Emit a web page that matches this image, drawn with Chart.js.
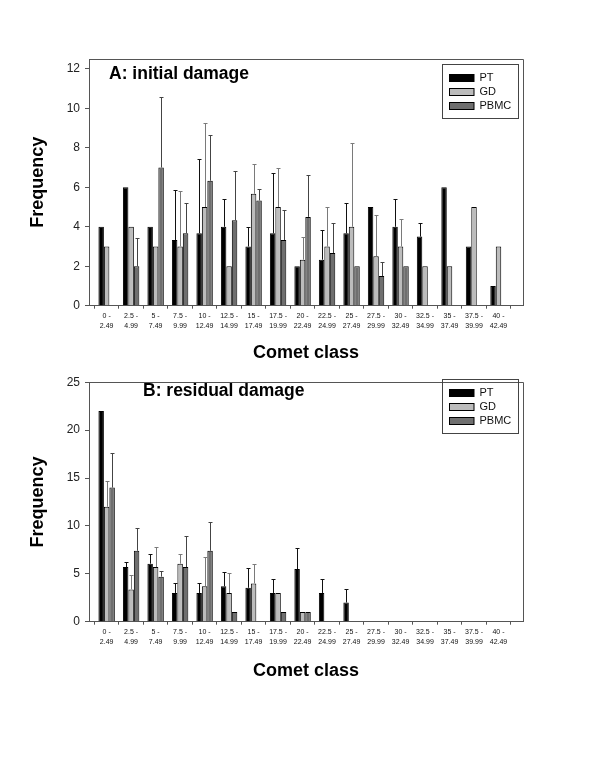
<!DOCTYPE html>
<html>
<head>
<meta charset="utf-8">
<script src="https://cdn.jsdelivr.net/npm/chart.js@4.4.1/dist/chart.umd.min.js"></script>
<style>
  body { margin: 0; background: #fff; }
  #wrap { position: relative; width: 600px; height: 774px; }
  canvas { position: absolute; left: 0; }
  #chartA { top: 0; }
  #chartB { top: 370px; }
</style>
</head>
<body>
<div id="wrap">
  <canvas id="chartA" width="600" height="370"></canvas>
  <canvas id="chartB" width="600" height="404"></canvas>
</div>
<script>
// ── Data ──────────────────────────────
const classLabels = [
    ['0 -', '2.49'], ['2.5 -', '4.99'], ['5 -', '7.49'], ['7.5 -', '9.99'],
    ['10 -', '12.49'], ['12.5 -', '14.99'], ['15 -', '17.49'], ['17.5 -', '19.99'],
    ['20 -', '22.49'], ['22.5 -', '24.99'], ['25 -', '27.49'], ['27.5 -', '29.99'],
    ['30 -', '32.49'], ['32.5 -', '34.99'], ['35 -', '37.49'], ['37.5 -', '39.99'],
    ['40 -', '42.49']
];
const seriesNames = ['PT', 'GD', 'PBMC'];

// A: initial damage (bar height, upper error bar end)
const ptA = [4, 6, 4, 3.33, 3.67, 4, 3, 3.67, 2, 2.33, 3.67, 5, 4, 3.5, 6, 3, 1];
const gdA = [3, 4, 3, 3, 5, 2, 5.67, 5, 2.33, 3, 4, 2.5, 3, 2, 2, 5, 3];
const pbmcA = [null, 2, 7, 3.67, 6.33, 4.33, 5.33, 3.33, 4.5, 2.67, 2, 1.5, 2, null, null, null, null];
const ptErrA = [null, null, null, 5.85, 7.45, 5.4, 4, 6.72, null, 3.86, 5.2, null, 5.4, 4.2, null, null, null];
const gdErrA = [null, null, null, 5.8, 9.24, null, 7.2, 6.97, 3.47, 5, 8.24, 4.62, 4.4, null, null, null, null];
const pbmcErrA = [null, 3.42, 10.58, 5.2, 8.65, 6.84, 5.9, 4.86, 6.63, 4.18, null, 2.2, null, null, null, null, null];

// B: residual damage
const ptB = [22, 5.7, 6.06, 3, 3, 3.7, 3.54, 3, 5.5, 3, 2, null, null, null, null, null, null];
const gdB = [12, 3.37, 5.7, 6.06, 3.7, 3, 4, 3, 1, null, null, null, null, null, null, null, null];
const pbmcB = [14, 7.4, 4.7, 5.7, 7.4, 1, null, 1, 1, null, null, null, null, null, null, null, null];
const ptErrB = [null, 6.26, 7.08, 4, 4, 5.24, 5.65, 4.43, 7.69, 4.43, 3.44, null, null, null, null, null, null];
const gdErrB = [14.7, 4.87, 7.8, 7.08, 6.78, 5.04, 6.06, null, null, null, null, null, null, null, null, null, null];
const pbmcErrB = [17.6, 9.73, 5.28, 8.95, 10.4, null, null, null, null, null, null, null, null, null, null, null, null];

const yTicksA = [0, 2, 4, 6, 8, 10, 12];
const yTicksB = [0, 5, 10, 15, 20, 25];

const FONT = 'Arial, "Liberation Sans", sans-serif';
const AXIS_COLOR = '#555';
const barColors = ['#000000', '#bcbcbc', '#6f6f6f'];
const errColors = ['#111111', '#7a7a7a', '#444444'];

// ── Frame, titles, legend, error bars ──────────
const decorPlugin = {
    id: 'decor',
    afterDatasetsDraw(chart, args, opts) {
        const ctx = chart.ctx;
        const y = chart.scales.y;
        ctx.save();
        ctx.lineWidth = 1;
        opts.errors.forEach((errs, di) => {
            const meta = chart.getDatasetMeta(di);
            ctx.strokeStyle = errColors[di];
            meta.data.forEach((bar, i) => {
                if (errs[i] == null || bar.skip) return;
                const x = Math.round(bar.x) + 0.5;
                const top = Math.round(y.getPixelForValue(errs[i])) + 0.5;
                ctx.beginPath();
                ctx.moveTo(x, bar.y);
                ctx.lineTo(x, top);
                ctx.moveTo(x - 2, top);
                ctx.lineTo(x + 2, top);
                ctx.stroke();
            });
        });
        ctx.restore();
    },
    afterDraw(chart, args, opts) {
        const ctx = chart.ctx;
        const a = chart.chartArea;
        ctx.save();
        // top + right of the frame
        ctx.strokeStyle = AXIS_COLOR;
        ctx.lineWidth = 1;
        ctx.beginPath();
        ctx.moveTo(a.left, Math.round(a.top) + 0.5);
        ctx.lineTo(Math.round(a.right) + 0.5, Math.round(a.top) + 0.5);
        ctx.lineTo(Math.round(a.right) + 0.5, a.bottom);
        ctx.stroke();

        // panel title inside the plot
        ctx.fillStyle = '#000';
        ctx.font = 'bold 17.5px ' + FONT;
        ctx.textAlign = 'left';
        ctx.textBaseline = 'alphabetic';
        ctx.fillText(opts.title, opts.titleX, opts.titleY);

        // axis titles
        ctx.font = 'bold 18px ' + FONT;
        ctx.textAlign = 'center';
        ctx.textBaseline = 'middle';
        ctx.fillText('Comet class', (a.left + a.right) / 2, opts.xTitleY);
        ctx.save();
        ctx.translate(opts.yTitleX, (a.top + a.bottom) / 2);
        ctx.rotate(-Math.PI / 2);
        ctx.fillText('Frequency', 0, 0);
        ctx.restore();

        // legend box
        const lx = 442.5, lw = 76, lt = Math.round(opts.legendTop) + 0.5;
        ctx.strokeStyle = '#444';
        ctx.strokeRect(lx, lt, lw, 54);
        ctx.font = '11px ' + FONT;
        ctx.textAlign = 'left';
        chart.data.datasets.forEach((ds, i) => {
            const ry = lt + 13 + i * 14;
            ctx.fillStyle = ds.backgroundColor;
            ctx.fillRect(449.5, Math.round(ry - 3.5) + 0.5, 24.5, 7);
            ctx.strokeStyle = '#000';
            ctx.strokeRect(449.5, Math.round(ry - 3.5) + 0.5, 24.5, 7);
            ctx.fillStyle = '#111';
            ctx.fillText(ds.label, 479.5, ry);
        });
        ctx.restore();
    }
};

// ── Chart builder ──────────
function makeChart(id, series, errors, yMax, yTicks, area, decor) {
    const canvas = document.getElementById(id);
    return new Chart(canvas, {
        type: 'bar',
        data: {
            datasets: series.map((vals, i) => ({
                label: seriesNames[i],
                data: vals.map((v, j) => ({ x: j, y: v })),
                backgroundColor: barColors[i],
                borderColor: '#000',
                borderWidth: 1,
                categoryPercentage: 0.67,
                barPercentage: 1.0
            }))
        },
        options: {
            responsive: false,
            animation: false,
            devicePixelRatio: 1,
            layout: { padding: { left: 0, top: area.top, right: 600 - area.right, bottom: 0 } },
            plugins: {
                legend: { display: false },
                tooltip: { enabled: false },
                decor: Object.assign({ errors }, decor)
            },
            scales: {
                x: {
                    type: 'linear',
                    min: -0.72, max: 17,
                    offset: false,
                    afterBuildTicks: axis => { axis.ticks = classLabels.map((_, i) => ({ value: i })).concat({ value: 17 }); },
                    afterFit: axis => { axis.height = area.xHeight; },
                    grid: { drawOnChartArea: false, drawTicks: true, tickLength: 3, color: AXIS_COLOR },
                    border: { display: true, color: AXIS_COLOR, width: 1 },
                    ticks: {
                        autoSkip: false, maxRotation: 0, minRotation: 0, padding: 2,
                        color: '#111',
                        font: { family: FONT, size: 7, lineHeight: '10px' },
                        callback: v => classLabels[v] || ''
                    }
                },
                y: {
                    min: 0, max: yMax,
                    afterBuildTicks: axis => { axis.ticks = yTicks.map(v => ({ value: v })); },
                    afterFit: axis => { axis.width = area.left; },
                    grid: { drawOnChartArea: false, drawTicks: true, tickLength: 4, color: AXIS_COLOR },
                    border: { display: true, color: AXIS_COLOR, width: 1 },
                    ticks: { padding: 5, color: '#222', font: { family: FONT, size: 12 } }
                }
            }
        },
        plugins: [decorPlugin]
    });
}

makeChart('chartA', [ptA, gdA, pbmcA], [ptErrA, gdErrA, pbmcErrA], 12.5, yTicksA,
    { left: 89, right: 523, top: 59, xHeight: 370 - 305.7 },
    { title: 'A: initial damage', titleX: 109, titleY: 79, xTitleY: 353, yTitleX: 38, legendTop: 64.3 });

makeChart('chartB', [ptB, gdB, pbmcB], [ptErrB, gdErrB, pbmcErrB], 25, yTicksB,
    { left: 89, right: 523, top: 5.5, xHeight: 404 - 251.7 },
    { title: 'B: residual damage', titleX: 143, titleY: 26, xTitleY: 301, yTitleX: 38, legendTop: 9.3 });
</script>
</body>
</html>
